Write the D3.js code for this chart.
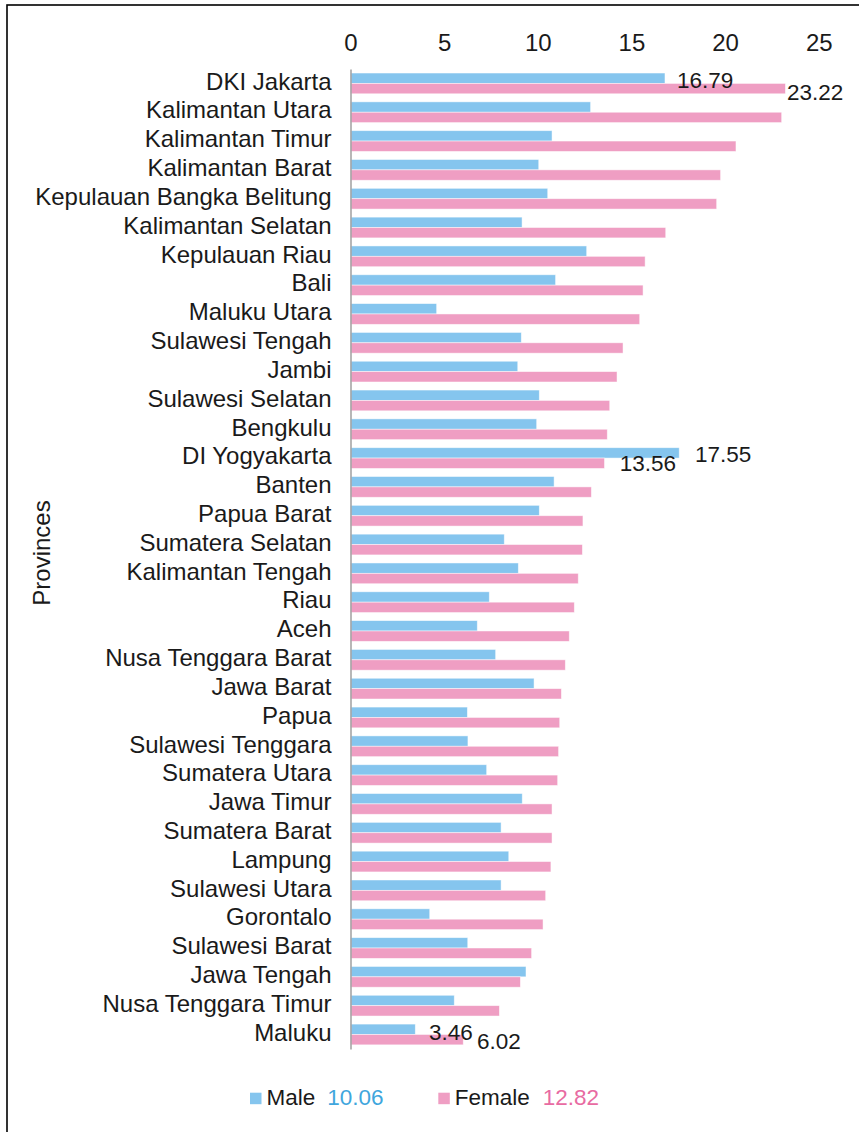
<!DOCTYPE html>
<html>
<head>
<meta charset="utf-8">
<script src="https://cdn.jsdelivr.net/npm/d3@7/dist/d3.min.js"></script>
<style>
  html, body { margin: 0; padding: 0; background: #fff; }
  svg { display: block; }
  text { font-family: "Liberation Sans", Arial, sans-serif; }
</style>
</head>
<body>
<script>
// Provinces, sorted by female rate (descending)
const provinces = [
  "DKI Jakarta", "Kalimantan Utara", "Kalimantan Timur", "Kalimantan Barat",
  "Kepulauan Bangka Belitung", "Kalimantan Selatan", "Kepulauan Riau", "Bali",
  "Maluku Utara", "Sulawesi Tengah", "Jambi", "Sulawesi Selatan", "Bengkulu",
  "DI Yogyakarta", "Banten", "Papua Barat", "Sumatera Selatan", "Kalimantan Tengah",
  "Riau", "Aceh", "Nusa Tenggara Barat", "Jawa Barat", "Papua", "Sulawesi Tenggara",
  "Sumatera Utara", "Jawa Timur", "Sumatera Barat", "Lampung", "Sulawesi Utara",
  "Gorontalo", "Sulawesi Barat", "Jawa Tengah", "Nusa Tenggara Timur", "Maluku"
];

const maleRate = [
  16.79, 12.82, 10.76, 10.05, 10.53, 9.16, 12.61, 10.95, 4.60, 9.12, 8.93, 10.08, 9.94,
  17.55, 10.87, 10.08, 8.21, 8.96, 7.41, 6.77, 7.75, 9.80, 6.24, 6.27, 7.27, 9.17,
  8.04, 8.45, 8.04, 4.23, 6.26, 9.37, 5.54, 3.46
];

const femaleRate = [
  23.22, 23.02, 20.58, 19.76, 19.55, 16.83, 15.73, 15.62, 15.44, 14.55, 14.23, 13.84, 13.71,
  13.56, 12.86, 12.41, 12.38, 12.16, 11.95, 11.68, 11.47, 11.26, 11.17, 11.11, 11.06, 10.76,
  10.76, 10.70, 10.42, 10.28, 9.67, 9.07, 7.95, 6.02
];

const xTicks = [0, 5, 10, 15, 20, 25];
const seriesNames = ["Male", "Female"];
const seriesAverages = ["10.06", "12.82"];

// Bars that carry a value label
const labelledBars = [
  { province: "DKI Jakarta", series: "Male" },
  { province: "DKI Jakarta", series: "Female" },
  { province: "DI Yogyakarta", series: "Male" },
  { province: "DI Yogyakarta", series: "Female" },
  { province: "Maluku", series: "Male" },
  { province: "Maluku", series: "Female" }
];

// ---- styling / layout ----
const W = 859, H = 1132;
const colors = { Male: "#85C5EE", Female: "#EF9EC3" };
const avgColors = { Male: "#3FA6DD", Female: "#E86BA2" };
const FS_AXIS = 24;   // tick labels, category labels, axis title
const FS_LABEL = 22.5; // value labels, legend

// label offsets (dx from bar end, dy from bar centre)
const labelNudge = {
  "DKI Jakarta|Male": [12, 1.9],
  "DKI Jakarta|Female": [1.5, 2.9],
  "DI Yogyakarta|Male": [15.7, 1],
  "DI Yogyakarta|Female": [15.3, 0],
  "Maluku|Male": [13.7, 2.4],
  "Maluku|Female": [13.7, 1]
};

const rows = provinces.map((p, i) => ({ province: p, Male: maleRate[i], Female: femaleRate[i] }));

const svg = d3.select("body").append("svg")
  .attr("width", W).attr("height", H);

// outer frame
svg.append("rect")
  .attr("x", 7).attr("y", 5)
  .attr("width", W + 20).attr("height", H + 20)
  .attr("fill", "none").attr("stroke", "#000").attr("stroke-width", 1.6);

const x0 = 350.5, unit = 18.73;
const x = d3.scaleLinear().domain([0, 25]).range([x0, x0 + 25 * unit]);

const yTop = 69, step = 28.82;
const y = d3.scaleBand().domain(provinces)
  .range([yTop, yTop + step * provinces.length])
  .paddingInner(0.28).paddingOuter(0.14);
const ySub = d3.scaleBand().domain(seriesNames).range([0, y.bandwidth()]);

// bars
const g = svg.append("g");
const rowG = g.selectAll("g.row").data(rows).join("g")
  .attr("class", "row")
  .attr("transform", d => `translate(0,${y(d.province)})`);

rowG.selectAll("rect").data(d => seriesNames.map(s => ({ series: s, value: d[s] })))
  .join("rect")
  .attr("x", x(0))
  .attr("y", d => ySub(d.series))
  .attr("width", d => x(d.value) - x(0))
  .attr("height", ySub.bandwidth())
  .attr("fill", d => colors[d.series])
  .attr("stroke", "#fff")
  .attr("stroke-opacity", 0.6)
  .attr("stroke-width", 0.8);

// top value axis (labels only)
const xAxis = svg.append("g")
  .attr("transform", "translate(0,58)")
  .call(d3.axisTop(x).tickValues(xTicks).tickSize(0).tickFormat(d3.format("d")));
xAxis.select(".domain").remove();
xAxis.selectAll("text")
  .attr("y", -7.4)
  .attr("font-size", FS_AXIS)
  .attr("fill", "#1a1a1a")
  .attr("font-family", "Liberation Sans, Arial, sans-serif");

// category axis
const yAxis = svg.append("g")
  .attr("transform", `translate(${x0},0)`)
  .call(d3.axisLeft(y).tickSize(0).tickPadding(19));
yAxis.select(".domain")
  .attr("stroke", "#A6A6A6").attr("stroke-width", 1.6);
yAxis.selectAll("text")
  .attr("font-size", FS_AXIS)
  .attr("fill", "#1a1a1a")
  .attr("dy", "0.26em")
  .attr("font-family", "Liberation Sans, Arial, sans-serif");

// axis title
svg.append("text")
  .attr("transform", "translate(50,553) rotate(-90)")
  .attr("text-anchor", "middle")
  .attr("font-size", FS_AXIS)
  .attr("fill", "#1a1a1a")
  .text("Provinces");

// value labels
const rowIndex = new Map(rows.map(r => [r.province, r]));
svg.append("g").selectAll("text").data(labelledBars).join("text")
  .each(function (d) {
    const v = rowIndex.get(d.province)[d.series];
    const [dx, dy] = labelNudge[d.province + "|" + d.series];
    const cy = y(d.province) + ySub(d.series) + ySub.bandwidth() / 2 + dy;
    d3.select(this)
      .attr("x", x(v) + dx)
      .attr("y", cy)
      .attr("dy", "0.36em")
      .text(d3.format(".2f")(v));
  })
  .attr("font-size", FS_LABEL)
  .attr("fill", "#1a1a1a");

// legend
const legendX = [250, 438.3];
const legend = svg.append("g").attr("transform", "translate(0,1092.7)");
seriesNames.forEach((s, i) => {
  const lg = legend.append("g").attr("transform", `translate(${legendX[i]},0)`);
  lg.append("rect").attr("width", 11.5).attr("height", 11.5).attr("fill", colors[s]);
  const t = lg.append("text")
    .attr("x", 16.5).attr("y", 12.5)
    .attr("font-size", FS_LABEL).attr("fill", "#1a1a1a");
  t.append("tspan").text(s);
  t.append("tspan").attr("dx", i === 0 ? 12 : 13).attr("fill", avgColors[s]).text(seriesAverages[i]);
});
</script>
</body>
</html>
